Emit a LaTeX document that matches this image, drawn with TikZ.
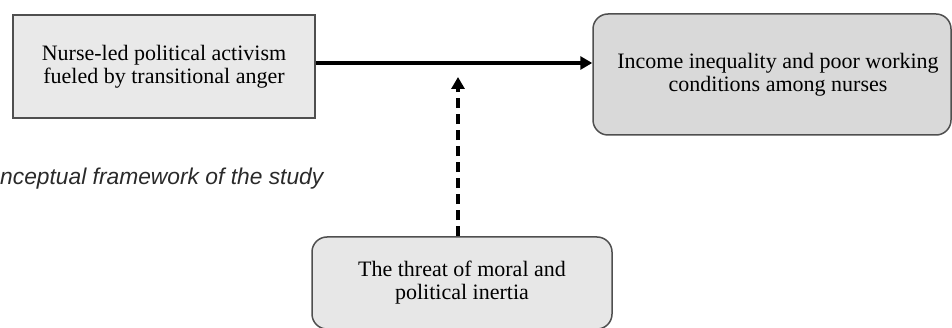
\documentclass[tikz,border=0pt]{standalone}
\usepackage{fontspec}
\setmainfont{Liberation Serif}
\newfontfamily\capfont{Liberation Sans}
\usetikzlibrary{arrows.meta}
\definecolor{boxA}{HTML}{E9E9E9}
\definecolor{boxB}{HTML}{D9D9D9}
\definecolor{boxC}{HTML}{E7E7E7}
\definecolor{edge}{HTML}{4F4F4F}
\definecolor{captext}{HTML}{2A2A2A}
\tikzset{
  boxbase/.style={draw=edge, line width=1.5pt, align=center, inner sep=0pt,
    font=\fontsize{22}{23}\selectfont},
  sqbox/.style={boxbase, fill=boxA},
  rbox/.style={boxbase, rounded corners=15pt},
  mainarrow/.style={line width=3.5pt, -{Triangle[length=12pt,width=13pt]}},
  dasharrow/.style={line width=4pt, dash pattern=on 10pt off 6pt, -{Triangle[length=12pt,width=13pt]}}
}
\begin{document}
\begin{tikzpicture}[x=1pt,y=-1pt]
\useasboundingbox (0,0) rectangle (952,328);
\node[sqbox, minimum width=302pt, minimum height=103pt] (act) at (164,66.5)
  {Nurse-led political activism\\fueled by transitional anger};
\node[rbox, fill=boxB, minimum width=358pt, minimum height=121pt] (inc) at (772,74.5)
  {\hspace*{12pt}Income inequality and poor working\\\hspace*{12pt}conditions among nurses};
\node[rbox, fill=boxC, minimum width=300pt, minimum height=92pt] (thr) at (462,283)
  {The threat of moral and\\political inertia};
\node[anchor=base west, inner sep=0pt, text=captext, font=\capfont\itshape\fontsize{22.8}{24}\selectfont] (cap) at (0,185)
  {nceptual framework of the study};
\coordinate (tip) at (458,77);
\draw[mainarrow] ([yshift=3.5pt]act.east) -- ([yshift=3.5pt]act.east -| inc.west);
\draw[dasharrow] (thr.north -| tip) -- (tip);
\end{tikzpicture}
\end{document}
